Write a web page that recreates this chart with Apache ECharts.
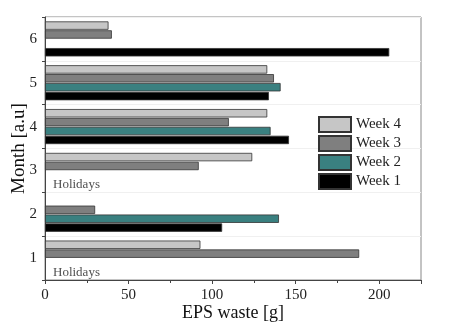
<!DOCTYPE html>
<html>
<head>
<meta charset="utf-8">
<style>
  html, body { margin: 0; padding: 0; background: #fff; }
  #myChart { width: 455px; height: 326px; }
</style>
<script src="https://cdn.jsdelivr.net/npm/echarts@6/dist/echarts.min.js"></script>
</head>
<body>
<div id="myChart"></div>
<script>
// months on the y axis, bottom to top
const months = ['1', '2', '3', '4', '5', '6']
const seriesNames = ['Week 4', 'Week 3', 'Week 2', 'Week 1']
// EPS waste [g], '-' = no data
const week4 = [93, '-', 124, 133, 133, 38]
const week3 = [188, 30, 92, 110, 137, 40]
const week2 = ['-', 140, '-', 135, 141, '-']
const week1 = ['-', 106, '-', 146, 134, 206]
const holidayMonths = ['1', '3']
const xTicks = { min: 0, max: 225, interval: 50 }

const colors = ['#c6c6c6', '#7f7f7f', '#3a8080', '#000000']
const font = 'Liberation Serif'

let myChart = echarts.init(document.getElementById('myChart'))
const weekData = [week4, week3, week2, week1]

myChart.setOption({
  animation: false,
  textStyle: { fontFamily: font },
  grid: {
    left: 45, right: 34, top: 17, bottom: 46,
    outerBoundsMode: 'none',
    containLabel: false,
    show: true, borderColor: '#888', borderWidth: 1
  },
  legend: {
    data: seriesNames,
    orient: 'vertical',
    left: 318, top: 116,
    padding: 0,
    itemWidth: 32, itemHeight: 15, itemGap: 2,
    textStyle: { fontFamily: font, fontSize: 15, color: '#222' },
    icon: 'rect'
  },
  xAxis: {
    type: 'value',
    min: xTicks.min, max: xTicks.max, interval: xTicks.interval,
    name: 'EPS waste [g]',
    nameLocation: 'middle',
    nameMoveOverlap: false,
    nameGap: 24,
    nameTextStyle: { fontFamily: font, fontSize: 18, color: '#111' },
    axisLine: { show: true, lineStyle: { color: '#444' } },
    axisTick: { show: true, length: 4, lineStyle: { color: '#444' } },
    minorTick: { show: true, splitNumber: 2, length: 3, lineStyle: { color: '#444' } },
    axisLabel: { fontFamily: font, fontSize: 15, color: '#222', margin: 8, showMaxLabel: false },
    splitLine: { show: false }
  },
  yAxis: {
    type: 'category',
    data: months,
    name: 'Month [a.u]',
    nameLocation: 'middle',
    nameMoveOverlap: false,
    nameGap: 16,
    nameTextStyle: { fontFamily: font, fontSize: 19, color: '#111' },
    axisLine: { show: true, lineStyle: { color: '#444' } },
    axisTick: { show: true, length: 3, lineStyle: { color: '#444' } },
    axisLabel: { fontFamily: font, fontSize: 15, color: '#222', margin: 8 },
    splitLine: { show: true, lineStyle: { color: '#f0f0f0' } }
  },
  series: seriesNames.map((name, i) => ({
    name: name,
    type: 'bar',
    data: weekData[i],
    barCategoryGap: '20%',
    barGap: '6%',
    itemStyle: { color: colors[i], borderColor: '#333', borderWidth: 0.8 }
  })).concat([{
    type: 'scatter',
    symbolSize: 0,
    silent: true,
    data: holidayMonths.map(m => [0, m]),
    label: {
      show: true,
      formatter: 'Holidays',
      position: 'right',
      offset: [3, 14],
      fontFamily: font,
      fontSize: 13,
      color: '#222'
    }
  }])
})
</script>
</body>
</html>
